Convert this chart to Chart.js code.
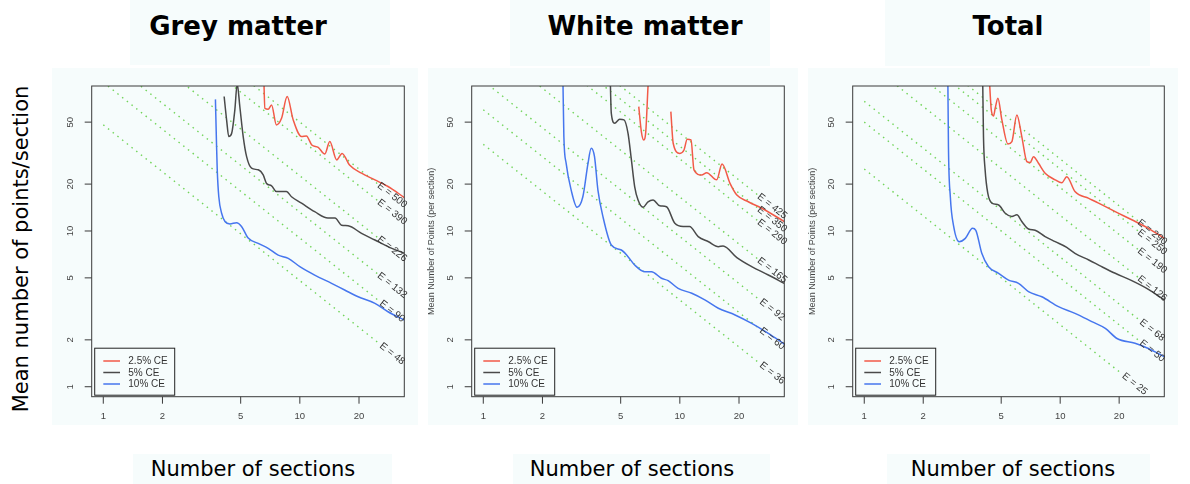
<!DOCTYPE html>
<html>
<head>
<meta charset="utf-8">
<script src="https://cdn.jsdelivr.net/npm/chart.js@4.4.1/dist/chart.umd.min.js"></script>
<style>
    body { margin: 0; width: 1190px; height: 484px; background: #fff; position: relative; overflow: hidden; font-family: "DejaVu Sans", Verdana, sans-serif; }
    .bg { position: absolute; background: #f6fcfc; }
    canvas { position: absolute; }
    .title { position: absolute; top: 11px; font-weight: bold; font-size: 26px; transform: translateX(-50%); white-space: nowrap; color: #000; }
    .xlab { position: absolute; top: 457px; font-size: 21px; transform: translateX(-50%); white-space: nowrap; color: #000; }
    #ylab { position: absolute; left: 20.7px; top: 249px; font-size: 21px; transform: translate(-50%, -50%) rotate(-90deg); white-space: nowrap; }
</style>
</head>
<body>
<!-- light backgrounds behind titles, plots and axis labels -->
<div class="bg" style="left:130px;top:0;width:260px;height:65px"></div>
<div class="bg" style="left:510px;top:0;width:260px;height:66px"></div>
<div class="bg" style="left:885px;top:0;width:265px;height:66px"></div>
<div class="bg" style="left:52px;top:68px;width:366px;height:357px"></div>
<div class="bg" style="left:428px;top:68px;width:370px;height:357px"></div>
<div class="bg" style="left:808px;top:68px;width:370px;height:357px"></div>
<div class="bg" style="left:133px;top:454px;width:259px;height:30px"></div>
<div class="bg" style="left:513px;top:454px;width:257px;height:30px"></div>
<div class="bg" style="left:887px;top:454px;width:263px;height:30px"></div>

<div class="title" style="left:238px">Grey matter</div>
<div class="title" style="left:645px">White matter</div>
<div class="title" style="left:1008px">Total</div>
<div class="xlab" style="left:253px">Number of sections</div>
<div class="xlab" style="left:632px">Number of sections</div>
<div class="xlab" style="left:1013px">Number of sections</div>
<div id="ylab">Mean number of points/section</div>

<canvas id="grey" width="380" height="360" style="left:40px;top:68px"></canvas>
<canvas id="white" width="380" height="360" style="left:420px;top:68px"></canvas>
<canvas id="total" width="380" height="360" style="left:800px;top:68px"></canvas>

<script>
// Axis ticks
const xTicks = [1, 2, 5, 10, 20];
const yTicks = [1, 2, 5, 10, 20, 50];
const seriesNames = ['2.5% CE', '5% CE', '10% CE'];

// Grey matter: [sections, mean points]
const greyRed = [[6.55,100],[6.64,61.4],[6.9,60.5],[7.18,64.5],[7.6,48],[8.07,52.9],[8.62,73],[9.25,51.7],[10.2,40.4],[10.8,40.8],[11.5,35.7],[12.4,34.4],[13.4,31.2],[14.2,37.5],[15.4,28.6],[16.4,31.5],[17.9,26.5],[20.6,23.5],[24.1,21.3],[28.1,19.3],[34,16.4]];
const greyBlack = [[4.12,73],[4.24,51.7],[4.35,40.4],[4.5,42.4],[4.67,60],[4.8,88],[4.95,63],[5.15,40.4],[5.36,30],[5.68,25.3],[6.14,24.7],[6.51,22.9],[6.77,20.2],[7.18,19.5],[7.6,17.9],[8.55,17.9],[9.07,16.6],[10.2,15.1],[11.9,13.3],[13.9,12.1],[15.1,12.1],[16.3,10.9],[17.6,10.8],[20.6,9.66],[24.1,8.75],[28.1,7.93],[34,7.19]];
const greyBlue = [[3.72,70],[3.76,40],[3.8,24.6],[3.87,16.6],[4.0,13.0],[4.16,11.5],[4.41,11.1],[4.76,11.3],[5.05,10.7],[5.46,9.0],[6.14,8.33],[6.9,7.74],[7.76,7.0],[8.73,6.67],[10,5.9],[11.9,5.21],[14.5,4.61],[16.9,4.18],[19.8,3.78],[24.1,3.43],[28.1,3.03],[34,2.68]];
const greyE = [500, 390, 226, 132, 90, 48];
const greyLabelX = [29.5, 29.5, 29.5, 29.5, 29.5, 29.5];

// White matter
const whiteRed = [[6.18,62.9],[6.37,43.5],[6.55,38.4],[6.71,43.5],[6.89,85],[7.1,150],[8,null],[9.0,58.4],[9.25,36.6],[10,31.5],[10.5,33.1],[10.9,38.8],[11.4,38.4],[11.8,24.7],[12.9,22.9],[13.7,23.7],[15.4,21.3],[16.4,26.9],[18,20.2],[19.5,17],[22.3,15.4],[26.1,14],[34,11.5]];
const whiteBlack = [[4.42,100],[4.48,57],[4.66,49.2],[4.94,52.2],[5.2,51.7],[5.45,42.4],[5.67,28.6],[5.89,19.3],[6.13,15.8],[6.5,14.2],[6.89,15.4],[7.31,15.8],[7.91,14.5],[8.55,14.3],[9.43,11.2],[10.4,10.7],[11.2,10.7],[12.4,9.2],[14.0,8.53],[15.7,7.93],[16.6,8.01],[19.5,6.74],[23.2,5.9],[28.2,5.22],[34,4.61]];
const whiteBlue = [[2.54,100],[2.57,40.4],[2.64,27.2],[2.8,18.3],[3.0,14.2],[3.21,16.6],[3.41,27.2],[3.54,34],[3.68,30],[3.83,18.3],[4.06,12.4],[4.48,8.13],[5.04,7.55],[5.45,6.84],[5.89,6.05],[6.63,5.48],[7.17,5.48],[8.06,4.97],[8.72,4.8],[9.8,4.28],[11.5,3.98],[13.4,3.61],[15.7,3.19],[19.1,2.89],[23.2,2.55],[28.2,2.2],[34,1.88]];
const whiteE = [425, 350, 290, 165, 92, 60, 36];
const whiteLabelX = [29.5, 29.5, 29.5, 29.5, 29.5, 29.5, 29.5];

// Total
const totalRed = [[4.34,100],[4.45,59.9],[4.57,54.8],[4.66,61.4],[4.81,71.2],[5.04,51.7],[5.41,36.2],[5.67,37.5],[6.01,55.6],[6.37,40.4],[6.76,27.9],[7.03,27.5],[7.31,30],[7.75,27.2],[8.38,23.5],[9.43,21.3],[10.2,20.4],[10.8,22.3],[11.9,17.9],[14,16.2],[15.7,15.1],[19.1,13.3],[23.2,11.8],[28.2,10.4],[34,8.97]];
const totalBlack = [[4.02,100],[4.06,40.4],[4.14,24.6],[4.27,17.5],[4.48,15.1],[4.85,14.7],[5.24,13.0],[5.67,12.4],[6.01,12.7],[6.37,11.5],[6.89,10.3],[7.45,10.1],[8.38,9.2],[9.43,8.54],[10.8,7.85],[11.9,7.19],[14,6.51],[16.3,5.9],[19.1,5.35],[23.2,4.8],[28.2,4.22],[34,3.61]];
const totalBlue = [[2.67,100],[2.69,34.8],[2.75,16.6],[2.86,10.7],[3.05,8.54],[3.28,8.97],[3.57,10.4],[3.71,10.1],[3.98,7.19],[4.31,5.9],[4.85,5.35],[5.45,4.84],[6.13,4.61],[6.89,4.08],[8.06,3.78],[9.8,3.27],[11.9,2.96],[14.5,2.62],[17,2.37],[19.5,2.04],[24.1,1.9],[28.2,1.76],[34,1.56]];
const totalE = [290, 250, 190, 126, 68, 50, 25];
const totalLabelX = [29.5, 29.5, 29.5, 29.5, 29.5, 29.5, 24];

const colors = ['#f25a48', '#4a4a4a', '#4676ee'];
const green = '#72d45a';
const tickFont = '9.5px "Liberation Sans", Arial, sans-serif';

function line(ctx, x1, y1, x2, y2) {
    ctx.beginPath();
    ctx.moveTo(x1, y1);
    ctx.lineTo(x2, y2);
    ctx.stroke();
}

// Draws the R-style box, ticks, E labels and legend
const rAxes = {
    id: 'rAxes',
    afterDraw(chart, args, opts) {
        const { ctx, chartArea: a, scales: { x, y } } = chart;
        ctx.save();
        ctx.strokeStyle = '#3a3a3a';
        ctx.lineWidth = 1;
        ctx.strokeRect(a.left, a.top, a.right - a.left, a.bottom - a.top);

        ctx.fillStyle = '#444';
        ctx.font = tickFont;
        ctx.textAlign = 'center';
        ctx.textBaseline = 'middle';
        xTicks.forEach(v => {
            const px = x.getPixelForValue(v);
            line(ctx, px, a.bottom, px, a.bottom + 7);
            ctx.fillText(String(v), px, a.bottom + 20);
        });
        yTicks.forEach(v => {
            const py = y.getPixelForValue(v);
            line(ctx, a.left - 7, py, a.left, py);
            ctx.save();
            ctx.translate(a.left - 21.5, py);
            ctx.rotate(-Math.PI / 2);
            ctx.fillText(String(v), 0, 0);
            ctx.restore();
        });

        if (opts.yTitle) {
            ctx.save();
            ctx.font = '9px "Liberation Sans", Arial, sans-serif';
            ctx.translate(a.left - 40, (a.top + a.bottom) / 2);
            ctx.rotate(-Math.PI / 2);
            ctx.fillText('Mean Number of Points (per section)', 0, 0);
            ctx.restore();
        }

        // E labels along the dotted lines
        ctx.fillStyle = '#333';
        ctx.font = '10px "Liberation Sans", Arial, sans-serif';
        opts.eValues.forEach((e, i) => {
            const lx = opts.labelX[i];
            const p1x = x.getPixelForValue(lx), p1y = y.getPixelForValue(e / lx);
            const p2x = x.getPixelForValue(lx * 2), p2y = y.getPixelForValue(e / (lx * 2));
            ctx.save();
            ctx.translate(p1x, p1y);
            ctx.rotate(Math.atan2(p2y - p1y, p2x - p1x));
            ctx.fillText('E = ' + e, 0, 0);
            ctx.restore();
        });

        // legend
        const lx0 = a.left + 3, ly0 = a.bottom - 48.5;
        ctx.strokeStyle = '#222';
        ctx.strokeRect(lx0, ly0, 80, 47);
        ctx.font = '10px "Liberation Sans", Arial, sans-serif';
        ctx.textAlign = 'left';
        ctx.fillStyle = '#333';
        seriesNames.forEach((name, i) => {
            const ry = ly0 + 12.8 + i * 11.5;
            ctx.strokeStyle = colors[i];
            ctx.lineWidth = 1.5;
            line(ctx, lx0 + 8.6, ry, lx0 + 25.3, ry);
            ctx.fillText(name, lx0 + 33.6, ry + 0.5);
        });
        ctx.restore();
    }
};

function makePanel(id, curves, eValues, labelX, yTitle, padLeft) {
    const datasets = curves.map((c, i) => ({
        label: seriesNames[i],
        data: c.map(p => ({ x: p[0], y: p[1] })),
        borderColor: colors[i],
        borderWidth: 1.5,
        pointRadius: 0,
        cubicInterpolationMode: 'monotone',
        spanGaps: false,
        order: 0
    }));
    eValues.forEach((e, i) => {
        const xEnd = labelX[i] / 1.18;
        datasets.push({
            label: 'E = ' + e,
            data: [{ x: 1, y: e }, { x: xEnd, y: e / xEnd }],
            borderColor: green,
            borderWidth: 1.4,
            borderDash: [1.5, 4.5],
            pointRadius: 0,
            tension: 0,
            order: 1
        });
    });
    new Chart(document.getElementById(id), {
        type: 'line',
        data: { datasets },
        options: {
            responsive: false,
            animation: false,
            events: [],
            layout: { padding: { left: padLeft, right: 15.7, top: 18, bottom: 31.3 } },
            plugins: {
                legend: { display: false },
                tooltip: { enabled: false },
                rAxes: { eValues, labelX, yTitle }
            },
            scales: {
                x: { type: 'logarithmic', min: 0.873, max: 34.0, display: false },
                y: { type: 'logarithmic', min: 0.863, max: 85.3, display: false }
            }
        },
        plugins: [rAxes]
    });
}

makePanel('grey', [greyRed, greyBlack, greyBlue], greyE, greyLabelX, false, 51.7);
makePanel('white', [whiteRed, whiteBlack, whiteBlue], whiteE, whiteLabelX, true, 51.7);
makePanel('total', [totalRed, totalBlack, totalBlue], totalE, totalLabelX, true, 52.7);
</script>
</body>
</html>
